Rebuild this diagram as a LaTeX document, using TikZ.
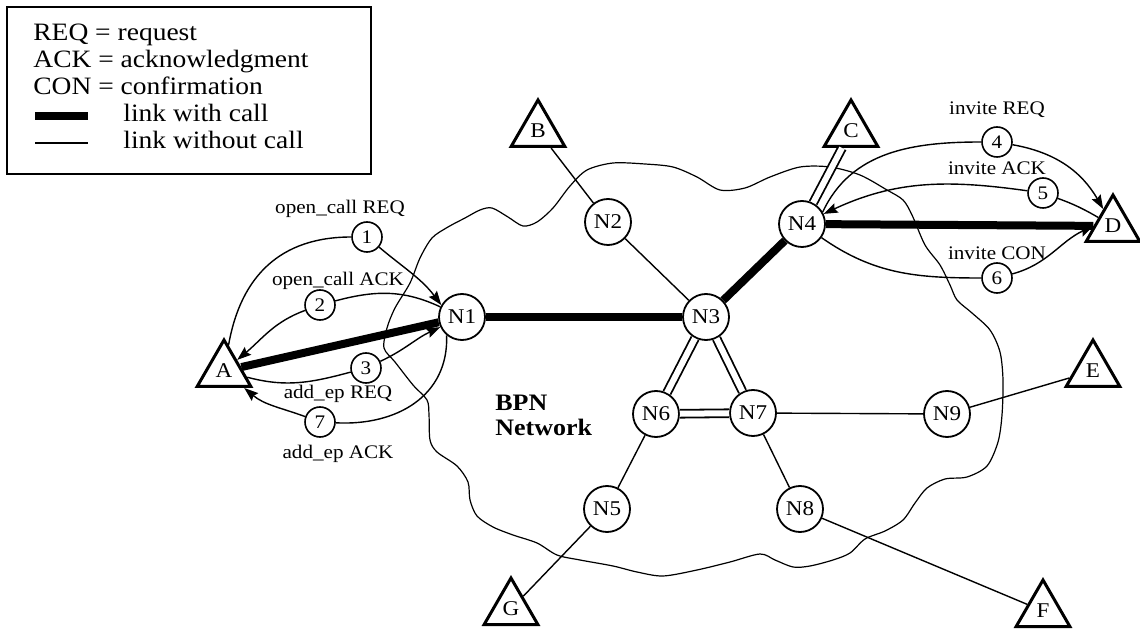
\documentclass[tikz,border=0pt]{standalone}
\usepackage{fontspec}
\setmainfont{Liberation Serif}[FakeStretch=1.1]
\usetikzlibrary{shapes.geometric,arrows.meta}

\tikzset{
  net/.style={circle, draw, line width=0.9pt, minimum size=23pt, inner sep=0pt,
    fill=white, font=\fontsize{10.5}{12}\selectfont},
  term/.style={regular polygon, regular polygon sides=3, draw, line width=1.5pt,
    minimum size=31pt, inner sep=0pt, fill=white, font=\fontsize{10.5}{12}\selectfont},
  msg/.style={circle, draw, line width=0.8pt, minimum size=15pt, inner sep=0pt,
    fill=white, font=\fontsize{9.6}{11}\selectfont},
  lbl/.style={inner sep=0pt, font=\fontsize{9.6}{11}\selectfont},
  legtext/.style={inner sep=0pt, anchor=base west, font=\fontsize{12.5}{13.5}\selectfont},
  callink/.style={line width=4pt},
  plainlink/.style={line width=0.7pt},
  duallink/.style={double, double distance=3pt, line width=0.9pt},
  sig/.style={line width=0.7pt},
  sigarr/.style={sig, -{Stealth[length=7pt, width=5pt, inset=1pt]}},
  cloudline/.style={line width=0.6pt}
}

\begin{document}
\begin{tikzpicture}[x=0.5pt, y=0.5pt]
\fill[white] (0,0) rectangle (1140,-630);
\useasboundingbox (0,0) rectangle (1140,-630);

% BPN network outline
\draw[cloudline] plot[smooth cycle, tension=0.5] coordinates {
  (432,-238) (448,-227) (465,-218) (480,-210) (492,-208) (508,-217) (523,-226)
  (537,-222) (553,-208) (570,-186) (587,-170) (613,-163) (645,-164) (673,-167)
  (697,-177) (720,-190) (745,-188) (770,-177) (800,-167) (830,-167) (860,-175)
  (887,-190) (903,-200) (912,-215) (925,-245) (940,-265) (950,-285) (957,-300)
  (972,-313) (990,-330) (1000,-352) (1003,-380) (1002,-415) (998,-442) (987,-466)
  (967,-477) (945,-479) (927,-488) (915,-503) (903,-520) (885,-531) (865,-539)
  (850,-553) (833,-560) (810,-566) (793,-567) (775,-560) (760,-554) (730,-562)
  (697,-570) (663,-576) (637,-572) (613,-566) (580,-560) (557,-555) (537,-543)
  (513,-535) (493,-527) (477,-516) (470,-500) (468,-482) (457,-466) (437,-452)
  (430,-440) (429,-415) (427,-400) (413,-385) (395,-362) (384,-348) (387,-328)
  (395,-308) (410,-283) (420,-258)};

\node[inner sep=0pt, anchor=west, align=left, font=\fontsize{11.8}{12.5}\selectfont\bfseries]
  (bpn) at (495,-415) {BPN\\Network};

% legend
\node[draw, line width=0.9pt, anchor=north west, minimum width=182pt,
  minimum height=83.5pt, inner sep=0pt] (legend) at (6,-6) {};
\node[legtext] (lg1) at (33,-41) {REQ = request};
\node[legtext] (lg2) at (33,-68) {ACK = acknowledgment};
\node[legtext] (lg3) at (33,-95) {CON = confirmation};
\node[legtext] (lg4) at (123,-122) {link with call};
\node[legtext] (lg5) at (123,-149) {link without call};
\coordinate (lw1) at (35,-116);
\coordinate (lw2) at (88,-116);
\coordinate (lo1) at (35,-143);
\coordinate (lo2) at (88,-143);
\draw[callink] (lw1) -- (lw2);
\draw[plainlink] (lo1) -- (lo2);

% switching nodes
\node[net] (N1) at (462,-317) {N1};
\node[net] (N2) at (608,-222) {N2};
\node[net] (N3) at (706,-317) {N3};
\node[net] (N4) at (802,-224) {N4};
\node[net] (N5) at (607,-509) {N5};
\node[net] (N6) at (656,-414) {N6};
\node[net] (N7) at (753,-413) {N7};
\node[net] (N8) at (800,-509) {N8};
\node[net] (N9) at (947,-414) {N9};

% end points
\node[term] (A) at (224,-371) {A};
\node[term] (B) at (538,-131) {B};
\node[term] (C) at (851,-131) {C};
\node[term] (D) at (1113,-226) {D};
\node[term] (E) at (1093,-371) {E};
\node[term] (F) at (1043,-611) {F};
\node[term] (G) at (511,-609) {G};

% links
\draw[callink] (A) -- (N1);
\draw[callink] (N1) -- (N3);
\draw[callink] (N3) -- (N4);
\draw[callink] (N4) -- (D);
\draw[plainlink] (B) -- (N2);
\draw[plainlink] (N2) -- (N3);
\draw[plainlink] (N6) -- (N5);
\draw[plainlink] (N5) -- (G);
\draw[plainlink] (N7) -- (N8);
\draw[plainlink] (N8) -- (F);
\draw[plainlink] (N7) -- (N9);
\draw[plainlink] (N9) -- (E);
\draw[duallink] (C) -- (N4);
\draw[duallink] (N3) -- (N6);
\draw[duallink] (N3) -- (N7);
\draw[duallink] (N6) -- (N7);

% signalling messages
\node[lbl] (l1) at (340,-209) {open\_call REQ};
\node[lbl] (l2) at (338,-281) {open\_call ACK};
\node[lbl] (l3) at (338,-394) {add\_ep REQ};
\node[lbl] (l7) at (338,-454) {add\_ep ACK};
\node[lbl] (l4) at (997,-110) {invite REQ};
\node[lbl] (l5) at (997,-168) {invite ACK};
\node[lbl] (l6) at (997,-253) {invite CON};

\node[msg] (c1) at (367,-237) {1};
\node[msg] (c2) at (320,-305) {2};
\node[msg] (c3) at (366,-368) {3};
\node[msg] (c7) at (320,-422) {7};
\node[msg] (c4) at (997,-142) {4};
\node[msg] (c5) at (1043,-193) {5};
\node[msg] (c6) at (997,-278) {6};

\draw[sig] (A) to[out=80, in=180, looseness=1.1] (c1);
\draw[sigarr] (c1) to[out=-40, in=127] (N1.150);
\draw[sig] (N1) to[out=155, in=15] (c2);
\draw[sigarr] (c2) to[out=200, in=40] (A);
\draw[sig] (A) to[out=-15, in=195] (c3);
\draw[sigarr] (c3) to[out=25, in=205] (N1);
\draw[sig] (N1.-130) to[out=-88, in=-3, looseness=1.1] (c7);
\draw[sigarr] (c7) to[out=160, in=-40] (A);

\draw[sig] (N4.30) to[out=65, in=180] (c4);
\draw[sigarr] (c4) to[out=-10, in=120] (D);
\draw[sig] (D) to[out=150, in=-20] (c5);
\draw[sigarr] (c5) to[out=172, in=25] (N4);
\draw[sig] (N4) to[out=-35, in=180] (c6);
\draw[sigarr] (c6) to[out=15, in=205] (D.west);
\end{tikzpicture}
\end{document}
